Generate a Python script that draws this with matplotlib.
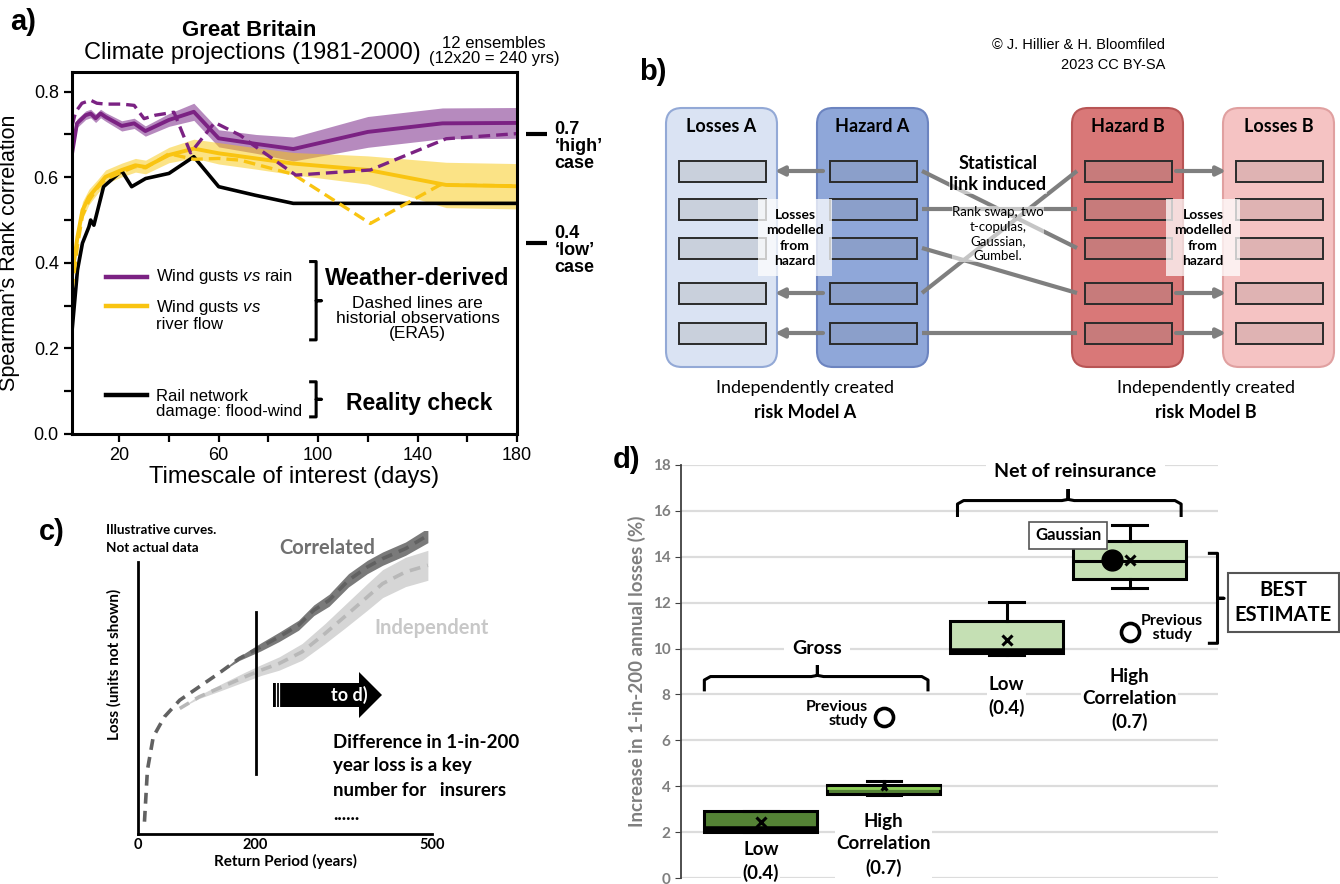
import matplotlib
matplotlib.use("Agg")
import matplotlib.pyplot as plt
from matplotlib.patches import FancyBboxPatch, Rectangle, Polygon

plt.rcParams['font.family'] = ['Liberation Sans', 'DejaVu Sans']
plt.rcParams['mathtext.fontset'] = 'custom'
plt.rcParams['mathtext.rm'] = 'Liberation Sans'
plt.rcParams['mathtext.it'] = 'Liberation Sans:italic'

# ---------------- Panel a data ----------------
rain_days = [1, 3, 6.5, 8.5, 10.5, 12.5, 14.5, 21, 26, 30.5, 40, 50, 60, 75, 90, 120, 150, 180]
rain_mean = [0.655, 0.726, 0.745, 0.749, 0.738, 0.749, 0.741, 0.72, 0.726, 0.708, 0.734, 0.753,
             0.691, 0.678, 0.666, 0.706, 0.726, 0.727]
rain_half = [0.008, 0.01, 0.01, 0.01, 0.01, 0.01, 0.01, 0.012, 0.012, 0.012, 0.015, 0.02,
             0.02, 0.022, 0.028, 0.036, 0.036, 0.036]
rain_obs_days = [1, 2.5, 5, 8.5, 11, 14.5, 21, 26, 30, 34.5, 42, 48.7, 58.4, 68.7, 74, 91, 121, 151.5, 180]
rain_obs = [0.72, 0.753, 0.773, 0.78, 0.773, 0.771, 0.771, 0.768, 0.737, 0.745, 0.752, 0.657,
            0.728, 0.698, 0.675, 0.605, 0.617, 0.69, 0.702]

river_days = [1, 3.2, 5.2, 7.8, 11.2, 14.5, 21, 26.5, 30.6, 40, 50, 60, 75, 90, 120, 151.5, 180]
river_mean = [0.37, 0.461, 0.523, 0.554, 0.578, 0.601, 0.617, 0.628, 0.624, 0.652, 0.667, 0.656,
              0.644, 0.632, 0.617, 0.582, 0.579]
river_half = [0.02, 0.02, 0.02, 0.018, 0.016, 0.016, 0.016, 0.016, 0.016, 0.018, 0.022, 0.025,
              0.025, 0.026, 0.033, 0.053, 0.053]
river_obs_days = [1, 3.2, 5.2, 7.8, 11.2, 14.5, 21, 26.5, 30.6, 40, 50, 60, 68.7, 90, 121, 149, 180]
river_obs = [0.335, 0.44, 0.51, 0.545, 0.575, 0.595, 0.612, 0.625, 0.622, 0.655, 0.642, 0.644,
             0.64, 0.607, 0.492, 0.582, 0.58]

rail_days = [1, 3.2, 5.2, 7.8, 8.5, 9.8, 13.7, 21, 25, 30.6, 40, 50, 60, 74.7, 90, 180]
rail_corr = [0.24, 0.383, 0.446, 0.484, 0.50, 0.488, 0.578, 0.615, 0.578, 0.597, 0.609, 0.648,
             0.578, 0.558, 0.539, 0.539]

a_xticks = [20, 60, 100, 140, 180]
a_yticks = [0.0, 0.2, 0.4, 0.6, 0.8]
case_values = [0.70, 0.446]
case_labels = ['0.7\n\u2018high\u2019\ncase', '0.4\n\u2018low\u2019\ncase']

# ---------------- Panel b data ----------------
b_columns = ['Losses A', 'Hazard A', 'Hazard B', 'Losses B']
b_col_fill = ['#dae3f3', '#8fa7d9', '#d97878', '#f5c3c3']
b_col_edge = ['#93a9d6', '#6c84c0', '#b85555', '#e0a0a0']
b_cell_fill = ['#c9d0dc', '#8b9fca', '#c77b7b', '#dfb3b3']
b_links = [(0, 2), (1, 1), (2, 3), (3, 0), (4, 4)]   # Hazard A row -> Hazard B row
b_loss_rows = [0, 3, 4]
b_methods = 'Rank swap, two\nt-copulas,\nGaussian,\nGumbel.'

# ---------------- Panel c data (illustrative) ----------------
corr_rp = [11, 16, 26, 45, 71, 104, 137, 172, 209, 240, 273, 299, 325, 358, 390, 416, 455, 493]
corr_loss = [37, 192, 292, 352, 402, 442, 482, 527, 562, 592, 627, 672, 702, 762, 802, 827, 857, 897]
corr_half = [0, 0, 0, 0, 0, 0, 0, 6, 12, 14, 15, 16, 18, 20, 20, 20, 20, 22]
ind_rp = [71, 104, 143, 182, 209, 240, 279, 318, 351, 390, 416, 455, 493]
ind_loss = [377, 412, 442, 472, 492, 512, 547, 602, 652, 712, 752, 787, 807]
ind_half = [0, 5, 10, 14, 16, 20, 25, 30, 35, 40, 42, 44, 45]
c_xticks = [0, 200, 500]
c_key_rp = 200

# ---------------- Panel d data ----------------
d_pos = [1, 2, 3, 4]
d_labels = ['Low\n(0.4)', 'High\nCorrelation\n(0.7)', 'Low\n(0.4)', 'High\nCorrelation\n(0.7)']
d_q1 = [2.02, 3.67, 9.80, 13.05]
d_q3 = [2.93, 4.05, 11.22, 14.70]
d_med = [2.12, 3.92, 9.90, 13.83]
d_lo = [2.02, 3.62, 9.72, 12.62]
d_hi = [2.93, 4.23, 12.05, 15.40]
d_mean = [2.42, 3.95, 10.38, 13.88]
d_prev_pos = [2.0, 4.0]
d_prev = [7.03, 10.74]
d_gauss_pos = 3.86
d_gauss = 13.86

W, H = 1340, 884
fig = plt.figure(figsize=(13.4, 8.84), dpi=100)


def rect(l, t, r, b):
    return [l / W, 1 - b / H, (r - l) / W, (b - t) / H]


lato = ['Lato', 'DejaVu Sans']

# ============ Panel a ============
purple = '#7b2283'
yellow = '#f9c411'
axa = fig.add_axes(rect(72, 72, 517, 434))
axa.fill_between(rain_days, [m - h for m, h in zip(rain_mean, rain_half)],
                 [m + h for m, h in zip(rain_mean, rain_half)], color='#7b2a8a', alpha=0.55, lw=0)
axa.fill_between(river_days, [m - h for m, h in zip(river_mean, river_half)],
                 [m + h for m, h in zip(river_mean, river_half)], color='#f9c80e', alpha=0.5, lw=0)
axa.plot(rail_days, rail_corr, color='black', lw=2.6)
axa.plot(river_obs_days, river_obs, color=yellow, lw=2.4, dashes=(3.5, 1.8))
axa.plot(river_days, river_mean, color=yellow, lw=2.8)
axa.plot(rain_obs_days, rain_obs, color=purple, lw=2.4, dashes=(3.5, 1.8))
axa.plot(rain_days, rain_mean, color=purple, lw=2.8)
axa.set_xlim(1, 180)
axa.set_ylim(0, 0.846)
axa.set_xticks(a_xticks)
axa.set_xticks([40, 80, 120, 160], minor=True)
axa.set_yticks(a_yticks)
axa.set_yticklabels([f'{v:.1f}' for v in a_yticks])
axa.set_yticks([0.1, 0.3, 0.5, 0.7], minor=True)
axa.tick_params(which='both', direction='out', length=6, width=1.6, labelsize=13)
for s in axa.spines.values():
    s.set_linewidth(2.2)
axa.set_xlabel('Timescale of interest (days)', fontsize=17, labelpad=1)
axa.set_ylabel('Spearman\u2019s Rank correlation', fontsize=15.5, labelpad=10)

# legend-like annotations
leg_items = [(0.367, purple, 'Wind gusts $\\it{vs}$ rain'),
             (0.30, yellow, 'Wind gusts $\\it{vs}$\nriver flow'),
             (0.092, 'black', 'Rail network\ndamage: flood-wind')]
for y, col, lab in leg_items:
    axa.plot([14.5, 31], [y, y], color=col, lw=3.2)
    nl = lab.count('\n')
    axa.text(34.6, y + (0 if nl == 0 else -0.022), lab, fontsize=12, va='center', ha='left',
             linespacing=1.0)


def vbrace(ax, x, y0, y1, w, lw=2.2, color='black', clip=True):
    ym = (y0 + y1) / 2
    xs = [x - w, x, x, x + w, x, x, x - w]
    ys = [y1, y1, ym + 0.0001, ym, ym - 0.0001, y0, y0]
    ax.plot(xs, ys, color=color, lw=lw, solid_joinstyle='round', clip_on=clip)


vbrace(axa, 99.2, 0.22, 0.403, 2.2)
vbrace(axa, 99.2, 0.04, 0.122, 2.2)
axa.text(140, 0.364, 'Weather-derived', fontsize=17, fontweight='bold', ha='center', va='center')
axa.text(140, 0.27, 'Dashed lines are\nhistorial observations\n(ERA5)', fontsize=12.5,
         ha='center', va='center', linespacing=1.0)
axa.text(140.5, 0.072, 'Reality check', fontsize=16.5, fontweight='bold', ha='center', va='center')

# right side cases
for v, lab, yc in zip(case_values, case_labels, [0.673, 0.43]):
    axa.plot([183.5, 192], [v, v], color='black', lw=3, clip_on=False, solid_capstyle='butt')
    axa.text(195, yc, lab, fontsize=13, fontweight='bold', ha='left', va='center',
             linespacing=1.0, clip_on=False)

fig.text(249 / W, 1 - 30 / H, 'Great Britain', fontsize=16, fontweight='bold', ha='center', va='center')
fig.text(252 / W, 1 - 53 / H, 'Climate projections (1981-2000)', fontsize=17, ha='center', va='center')
fig.text(494 / W, 1 - 51 / H, '12 ensembles\n(12x20 = 240 yrs)', fontsize=12, ha='center', va='center',
         linespacing=0.95)

# ============ Panel c ============
axc = fig.add_axes(rect(138, 531, 432, 834))
axc.patch.set_alpha(0)
axc.fill_between(ind_rp, [m - h for m, h in zip(ind_loss, ind_half)],
                 [m + h for m, h in zip(ind_loss, ind_half)], color='#d6d6d6', lw=0)
axc.fill_between(corr_rp, [m - h for m, h in zip(corr_loss, corr_half)],
                 [m + h for m, h in zip(corr_loss, corr_half)], color='#7a7a7a', lw=0)
axc.plot(ind_rp, ind_loss, color='#b8b8b8', lw=2.6, dashes=(3, 2))
axc.plot(corr_rp, corr_loss, color='#616161', lw=2.6, dashes=(3, 2))
axc.plot([c_key_rp, c_key_rp], [180, 667], color='black', lw=2)
axc.set_xlim(0, 500)
axc.set_ylim(0, 910)
axc.spines['top'].set_visible(False)
axc.spines['right'].set_visible(False)
axc.spines['left'].set_bounds(0, 817)
axc.spines['left'].set_linewidth(2)
axc.spines['bottom'].set_linewidth(2)
axc.set_yticks([])
axc.set_xticks(c_xticks)
axc.tick_params(axis='x', length=0, pad=3)
for t in axc.get_xticklabels():
    t.set_fontfamily(lato)
    t.set_fontweight('bold')
    t.set_fontsize(10.5)
axc.set_xlabel('Return Period (years)', fontsize=11, fontweight='bold', family=lato, labelpad=1)
axc.set_ylabel('Loss (units not shown)', fontsize=11, fontweight='bold', family=lato, labelpad=3)
axc.yaxis.set_label_coords(-0.055, 0.56)

# ============ Panel d ============
axd = fig.add_axes(rect(681, 465, 1218, 878))
axd.patch.set_alpha(0)
stats = [dict(med=m, q1=a, q3=b, whislo=lo, whishi=hi, mean=mn, fliers=[])
         for m, a, b, lo, hi, mn in zip(d_med, d_q1, d_q3, d_lo, d_hi, d_mean)]
bp = axd.bxp(stats, positions=d_pos, widths=0.92, patch_artist=True, showmeans=True,
             capwidths=[0.28] * 4,
             boxprops=dict(linewidth=2.2, edgecolor='black'),
             whiskerprops=dict(linewidth=2.2, color='black'),
             capprops=dict(linewidth=2.2, color='black'),
             medianprops=dict(linewidth=2.2, color='black'),
             meanprops=dict(marker='x', markeredgecolor='black', markersize=7, markeredgewidth=2.2))
face = ['#548235', '#548235', '#c5e0b4', '#c5e0b4']
for patch, fc in zip(bp['boxes'], face):
    patch.set_facecolor(fc)
bp['medians'][0].set_linewidth(4)
bp['medians'][1].set_color('#8fcf5a')
bp['medians'][1].set_linewidth(2)
bp['medians'][2].set_linewidth(4)
bp['means'][1].set_markersize(4)
axd.plot(d_gauss_pos, d_gauss, 'o', color='black', ms=15, zorder=5)
axd.plot(d_prev_pos, d_prev, 'o', mfc='white', mec='black', mew=2.6, ms=13, zorder=5)
axd.set_xlim(0.35, 4.72)
axd.set_ylim(0, 18)
axd.set_yticks(range(0, 19, 2))
axd.grid(axis='y', color='#dcdcdc', lw=1.6)
axd.set_axisbelow(True)
for sn in ['top', 'right', 'bottom']:
    axd.spines[sn].set_visible(False)
axd.spines['left'].set_color('#404040')
axd.spines['left'].set_linewidth(1.3)
axd.set_xticks([])
axd.tick_params(axis='y', length=4, color='#404040', labelcolor='#7f7f7f', labelsize=11)
for t in axd.get_yticklabels():
    t.set_fontfamily(lato)
    t.set_fontweight('bold')
axd.set_ylabel('Increase in 1-in-200 annual losses (%)', fontsize=13.5, fontweight='bold',
               color='#7f7f7f', family=lato, labelpad=5)

wbox = dict(facecolor='white', edgecolor='none', pad=1.0)
for p, lab, yc in zip(d_pos, d_labels, [0.72, 1.45, 7.9, 7.78]):
    axd.text(p, yc, lab, ha='center', va='center', fontsize=13.5, fontweight='bold', family=lato,
             linespacing=1.4, bbox=wbox, clip_on=False)
axd.text(1.455, 10.0, 'Gross', ha='center', va='center', fontsize=14, fontweight='bold', family=lato,
         bbox=dict(facecolor='white', edgecolor='none', pad=6))
axd.text(3.56, 17.7, 'Net of reinsurance', ha='center', va='center', fontsize=14, fontweight='bold',
         family=lato, bbox=dict(facecolor='white', edgecolor='none', pad=6))
axd.text(1.87, 7.15, 'Previous\nstudy', ha='right', va='center', fontsize=11.5, fontweight='bold',
         family=lato, linespacing=0.95)
axd.text(4.09, 10.9, 'Previous\n   study', ha='left', va='center', fontsize=11.5, fontweight='bold',
         family=lato, linespacing=0.95)
axd.text(3.5, 14.93, 'Gaussian', ha='center', va='center', fontsize=12, fontweight='bold', family=lato,
         bbox=dict(facecolor='white', edgecolor='#555555', lw=1.2, pad=4), zorder=6)
axd.text(5.25, 12.0, 'BEST\nESTIMATE', ha='center', va='center', fontsize=14.5, fontweight='bold',
         family=lato, linespacing=1.3, clip_on=False,
         bbox=dict(facecolor='white', edgecolor='#555555', lw=1.5, pad=5))


def hbrace(ax, x0, x1, xt, yend, yh, ytip, lw=2.2):
    r = 0.05
    xs = [x0, x0, x0 + r, xt - r, xt, xt, xt, xt + r, x1 - r, x1, x1]
    ys = [yend, yh - 0.15, yh, yh, yh + 0.05, ytip, yh + 0.05, yh, yh, yh - 0.15, yend]
    ax.plot(xs, ys, color='black', lw=lw, clip_on=False, solid_joinstyle='round')


hbrace(axd, 0.54, 2.36, 1.46, 8.2, 8.78, 9.28)
hbrace(axd, 2.6, 4.42, 3.5, 15.8, 16.45, 16.93)
# vertical brace for best estimate
axd.plot([4.65, 4.716, 4.716, 4.77, 4.716, 4.716, 4.65], [14.15, 14.15, 12.2, 12.19, 12.18, 10.23, 10.23],
         color='black', lw=2.2, clip_on=False)

# ============ Overlay: panel b diagram, letters, arrow ============
ov = fig.add_axes([0, 0, 1, 1], zorder=10)
ov.set_xlim(0, W)
ov.set_ylim(H, 0)
ov.axis('off')

for lab, x, y in [('a)', 23, 22), ('b)', 653, 72), ('c)', 52, 532), ('d)', 627, 460)]:
    ov.text(x, y, lab, fontsize=21, fontweight='bold', ha='center', va='center')

col_left = [666, 817, 1072, 1223]
col_w = 111
col_top, col_bot = 108, 367
row_y = [171, 209, 248, 293, 333]
cell_off, cell_w, cell_h = 13, 87, 21
for i, name in enumerate(b_columns):
    x = col_left[i]
    ov.add_patch(FancyBboxPatch((x, col_top), col_w, col_bot - col_top,
                                boxstyle='round,pad=0,rounding_size=16',
                                facecolor=b_col_fill[i], edgecolor=b_col_edge[i], lw=1.5, zorder=1))
    ov.text(x + col_w / 2, 127, name, ha='center', va='center', fontsize=13, fontweight='bold',
            family=lato, zorder=4)
    for ry in row_y:
        ov.add_patch(Rectangle((x + cell_off, ry - cell_h / 2), cell_w, cell_h, facecolor=b_cell_fill[i],
                               edgecolor='#2b2b2b', lw=1.4, zorder=2))

link_col = '#7f7f7f'
for r in b_loss_rows:
    ov.annotate('', xy=(775, row_y[r]), xytext=(823, row_y[r]),
                arrowprops=dict(arrowstyle='-|>', color=link_col, lw=3, mutation_scale=13,
                                shrinkA=0, shrinkB=0), zorder=3)
    ov.annotate('', xy=(1226, row_y[r]), xytext=(1176, row_y[r]),
                arrowprops=dict(arrowstyle='-|>', color=link_col, lw=3, mutation_scale=13,
                                shrinkA=0, shrinkB=0), zorder=3)
for ra, rb in b_links:
    ov.plot([922, 1077], [row_y[ra], row_y[rb]], color=link_col, lw=3, zorder=3,
            solid_capstyle='butt')

ov.text(998, 174, 'Statistical\nlink induced', ha='center', va='center', fontsize=13, fontweight='bold',
        family=lato, linespacing=1.3, zorder=5,
        bbox=dict(facecolor='white', edgecolor='none', alpha=0.55, pad=0.5))
ov.text(998, 234, b_methods, ha='center', va='center', fontsize=9.5, family=lato, linespacing=1.25,
        zorder=5, bbox=dict(facecolor='white', edgecolor='none', alpha=0.55, pad=0.5))
for cx in [795, 1203]:
    ov.add_patch(Rectangle((cx - 37, 199), 74, 77, facecolor='white', alpha=0.75, edgecolor='none', zorder=4))
    ov.text(cx, 238, 'Losses\nmodelled\nfrom\nhazard', ha='center', va='center', fontsize=10,
            fontweight='bold', family=lato, linespacing=1.35, zorder=5)
for cx, lab in [(805, 'risk Model A'), (1206, 'risk Model B')]:
    ov.text(cx, 388, 'Independently created', ha='center', va='center', fontsize=13, family=lato)
    ov.text(cx, 413, lab, ha='center', va='center', fontsize=13, fontweight='bold', family=lato)
ov.text(1165, 45, '\u00a9 J. Hillier & H. Bloomfiled', ha='right', va='center', fontsize=10.5)
ov.text(1165, 65, '2023 CC BY-SA', ha='right', va='center', fontsize=10.5)

# panel c annotations
ov.text(106, 530, 'Illustrative curves.', ha='left', va='center', fontsize=9.7, fontweight='bold', family=lato)
ov.text(106, 548, 'Not actual data', ha='left', va='center', fontsize=9.7, fontweight='bold', family=lato)
ov.text(327, 548, 'Correlated', ha='center', va='center', fontsize=14.5, fontweight='bold', family=lato,
        color='#707070')
ov.text(432, 628, 'Independent', ha='center', va='center', fontsize=14.5, fontweight='bold', family=lato,
        color='#c8c8c8')
ov.add_patch(Polygon([(273, 683), (359, 683), (359, 672), (382, 695), (359, 718), (359, 707), (273, 707)],
                     closed=True, facecolor='black', edgecolor='none', zorder=3))
for xs in [275.5, 278.5]:
    ov.plot([xs, xs], [683, 707], color='white', lw=0.9, zorder=4)
ov.text(349, 695, 'to d)', ha='center', va='center', fontsize=13, fontweight='bold', family=lato,
        color='white', zorder=5)
ov.text(333, 778, 'Difference in 1-in-200\nyear loss is a key\nnumber for   insurers\n......', ha='left',
        va='center', fontsize=13.5, fontweight='bold', family=lato, linespacing=1.5)

fig.savefig('out.png', dpi=100)
